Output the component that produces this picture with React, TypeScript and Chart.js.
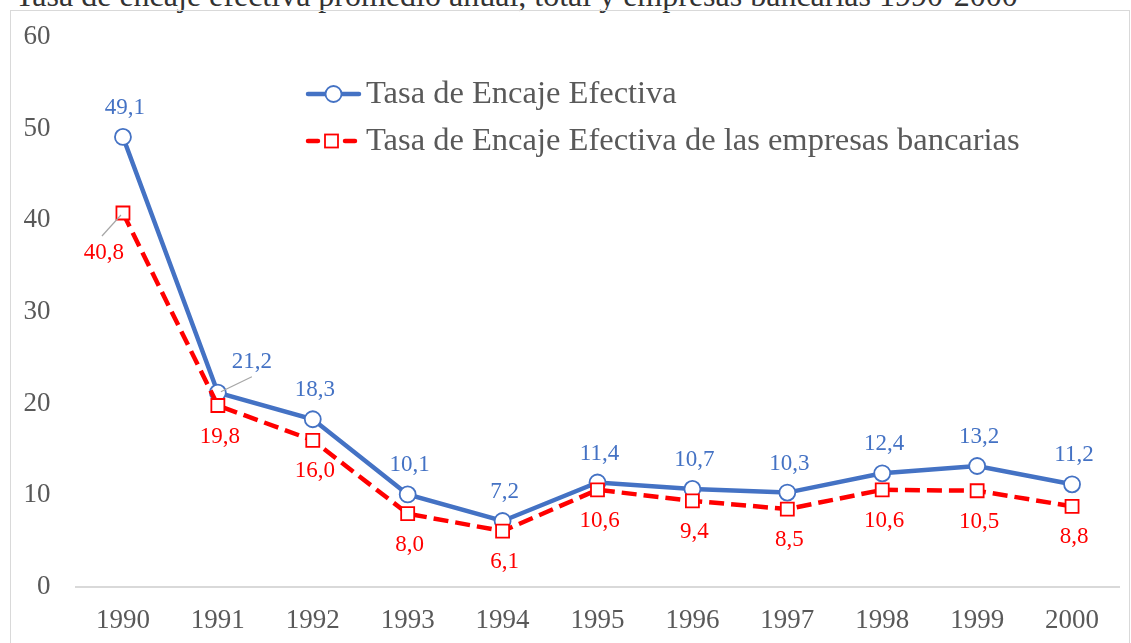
import React, { useEffect, useRef } from "react";
import { Chart, registerables } from "chart.js";

Chart.register(...registerables);

const years = ["1990", "1991", "1992", "1993", "1994", "1995", "1996", "1997", "1998", "1999", "2000"];
const tasaTotal = [49.1, 21.2, 18.3, 10.1, 7.2, 11.4, 10.7, 10.3, 12.4, 13.2, 11.2];
const tasaBancos = [40.8, 19.8, 16.0, 8.0, 6.1, 10.6, 9.4, 8.5, 10.6, 10.5, 8.8];
const seriesNames = ["Tasa de Encaje Efectiva", "Tasa de Encaje Efectiva de las empresas bancarias"];
const titleText = "Tasa de encaje efectiva promedio anual, total y empresas bancarias 1990-2000";

const BLUE = "#4472C4";
const RED = "#FF0000";
const FONT = "'Liberation Serif', 'Times New Roman', serif";

const fmt = (v: number) => v.toFixed(1).replace(".", ",");

// label placement: [datasetIndex, pointIndex] -> offset & leader line
const labelOverrides: Record<string, { dx: number; dy: number; leader: boolean }> = {
  "1-0": { dx: -19, dy: 40, leader: true },
  "0-1": { dx: 34, dy: -31, leader: true },
};

const labelsPlugin = {
  id: "dataLabels",
  afterDatasetsDraw(chart: any) {
    const ctx = chart.ctx;
    ctx.save();
    ctx.font = `23px ${FONT}`;
    ctx.textAlign = "center";
    ctx.textBaseline = "middle";
    chart.data.datasets.forEach((ds: any, di: number) => {
      const meta = chart.getDatasetMeta(di);
      const isBlue = ds.label === seriesNames[0];
      meta.data.forEach((pt: any, i: number) => {
        const key = `${di}-${i}`;
        const ov = labelOverrides[key];
        let dx = 2;
        let dy = isBlue ? -29 : 31;
        if (ov) {
          dx = ov.dx;
          dy = ov.dy;
        }
        const lx = pt.x + dx;
        const ly = pt.y + dy;
        if (ov && ov.leader) {
          ctx.strokeStyle = "#A6A6A6";
          ctx.lineWidth = 1.2;
          ctx.beginPath();
          if (dy > 0) {
            ctx.moveTo(pt.x - 2, pt.y + 2);
            ctx.lineTo(lx - 2, ly - 17);
          } else {
            ctx.moveTo(pt.x + 3, pt.y - 1);
            ctx.lineTo(lx, ly + 15);
          }
          ctx.stroke();
        }
        ctx.fillStyle = isBlue ? BLUE : RED;
        ctx.fillText(fmt(ds.data[i]), lx, ly);
      });
    });
    ctx.restore();
  },
};

const legendPlugin = {
  id: "insideLegend",
  afterDraw(chart: any) {
    const ctx = chart.ctx;
    ctx.save();
    // row 1
    ctx.strokeStyle = BLUE;
    ctx.lineWidth = 4.5;
    ctx.lineCap = "round";
    ctx.beginPath();
    ctx.moveTo(308, 94);
    ctx.lineTo(359, 94);
    ctx.stroke();
    ctx.fillStyle = "#fff";
    ctx.lineWidth = 1.8;
    ctx.beginPath();
    ctx.arc(333.5, 94, 8, 0, Math.PI * 2);
    ctx.fill();
    ctx.stroke();
    // row 2
    ctx.strokeStyle = RED;
    ctx.lineWidth = 4.5;
    ctx.beginPath();
    ctx.moveTo(308, 141);
    ctx.lineTo(318, 141);
    ctx.moveTo(345, 141);
    ctx.lineTo(355, 141);
    ctx.stroke();
    ctx.lineWidth = 1.8;
    ctx.fillStyle = "#fff";
    ctx.fillRect(325, 134.5, 13, 13);
    ctx.strokeRect(325, 134.5, 13, 13);
    // text
    ctx.fillStyle = "#595959";
    ctx.font = `32.5px ${FONT}`;
    ctx.textAlign = "left";
    ctx.textBaseline = "alphabetic";
    ctx.fillText(seriesNames[0], 366, 103);
    ctx.fillText(seriesNames[1], 366, 149.5);
    ctx.restore();
  },
};

export default function App() {
  const ref = useRef<HTMLCanvasElement | null>(null);
  useEffect(() => {
    if (!ref.current) return;
    const chart = new Chart(ref.current, {
      type: "line",
      data: {
        labels: years,
        datasets: [
          {
            label: seriesNames[0],
            data: tasaTotal,
            borderColor: BLUE,
            borderWidth: 4.5,
            pointRadius: 8,
            pointHoverRadius: 8,
            pointBackgroundColor: "#fff",
            pointBorderColor: BLUE,
            pointBorderWidth: 1.8,
            tension: 0,
            order: 2,
          },
          {
            label: seriesNames[1],
            data: tasaBancos,
            borderColor: RED,
            borderWidth: 4.5,
            borderDash: [15, 7],
            pointStyle: "rect",
            pointRadius: 9.2,
            pointHoverRadius: 9.2,
            pointBackgroundColor: "#fff",
            pointBorderColor: RED,
            pointBorderWidth: 1.8,
            tension: 0,
            order: 1,
          },
        ],
      },
      options: {
        responsive: false,
        animation: false,
        events: [],
        layout: { padding: { top: 37, right: 11.5, bottom: 0, left: 0 } },
        plugins: {
          legend: { display: false },
          tooltip: { enabled: false },
          title: { display: false },
        },
        scales: {
          x: {
            offset: true,
            grid: { display: false, drawTicks: false },
            border: { display: true, color: "#D9D9D9", width: 2 },
            ticks: { color: "#595959", font: { family: FONT, size: 27 }, padding: 18 },
            afterFit: (s: any) => {
              s.height = 56;
              s.paddingLeft = 0;
              s.paddingRight = 0;
            },
          },
          y: {
            min: 0,
            max: 60,
            grid: { display: false, drawTicks: false },
            border: { display: false },
            ticks: { stepSize: 10, color: "#595959", font: { family: FONT, size: 27 }, padding: 25 },
            afterFit: (s: any) => {
              s.width = 75.5;
              s.paddingTop = 0;
              s.paddingBottom = 0;
            },
          },
        },
      },
      plugins: [labelsPlugin, legendPlugin],
    });
    return () => chart.destroy();
  }, []);

  return (
    <div style={{ position: "fixed", left: 0, top: 0, width: 1131, height: 643, overflow: "hidden", background: "#fff" }}>
      <div
        style={{
          position: "absolute",
          left: 15,
          top: -23,
          fontFamily: FONT,
          fontSize: 32,
          color: "#333",
          whiteSpace: "nowrap",
          lineHeight: "normal",
        }}
      >
        {titleText}
      </div>
      <div
        style={{
          position: "absolute",
          left: 10,
          top: 10,
          width: 1118,
          height: 700,
          border: "1px solid #D9D9D9",
        }}
      />
      <canvas ref={ref} width={1131} height={643} style={{ position: "absolute", left: 0, top: 0 }} />
    </div>
  );
}
